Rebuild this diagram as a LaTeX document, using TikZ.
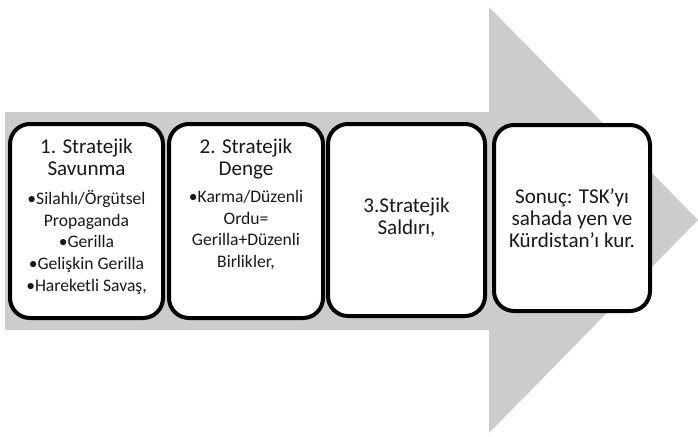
\documentclass[tikz,border=0pt]{standalone}
\usepackage{fontspec}
\setmainfont{Carlito}
\definecolor{arrowgray}{RGB}{204,204,204}
\definecolor{txt}{RGB}{25,25,25}
\begin{document}
\begin{tikzpicture}[x=0.75pt,y=-0.75pt,
  stage/.style={draw=black, line width=3pt, rounded corners=15pt, fill=white, inner sep=0pt},
  ttl/.style={font=\fontsize{15.8}{16.5}\selectfont, text=txt, align=center, inner sep=0pt},
  bul/.style={font=\fontsize{13.2}{16.3}\selectfont, text=txt, align=center, inner sep=0pt}]
\useasboundingbox (0,0) rectangle (698,436);
\fill[arrowgray] (5,112) -- (489,112) -- (489,7) -- (698,220) -- (489,433) -- (489,330) -- (5,330) -- cycle;
\node[stage, minimum width=114.75pt, minimum height=145.5pt] (b1) at (86.5,221) {};
\node[stage, minimum width=115.5pt, minimum height=145.5pt] (b2) at (246,221) {};
\node[stage, minimum width=117.75pt, minimum height=144pt] (b3) at (406.5,220) {};
\node[stage, minimum width=117pt, minimum height=139.5pt] (b4) at (572,218) {};
\node[ttl, anchor=north] (t1) at (86.5,139) {1. Stratejik\\Savunma};
\node[bul, anchor=north] (l1) at (86.5,190) {•Silahlı/Örgütsel\\Propaganda\\•Gerilla\\•Gelişkin Gerilla\\•Hareketli Savaş,};
\node[ttl, anchor=north] (t2) at (246,139) {2. Stratejik\\Denge};
\node[bul, anchor=north] (l2) at (246,190) {•Karma/Düzenli\\Ordu=\\Gerilla+Düzenli\\Birlikler,};
\node[ttl] (t3) at (406.5,218) {3.Stratejik\\Saldırı,};
\node[ttl] (t4) at (572,218) {Sonuç: TSK'yı\\sahada yen ve\\Kürdistan'ı kur.};
\end{tikzpicture}
\end{document}
